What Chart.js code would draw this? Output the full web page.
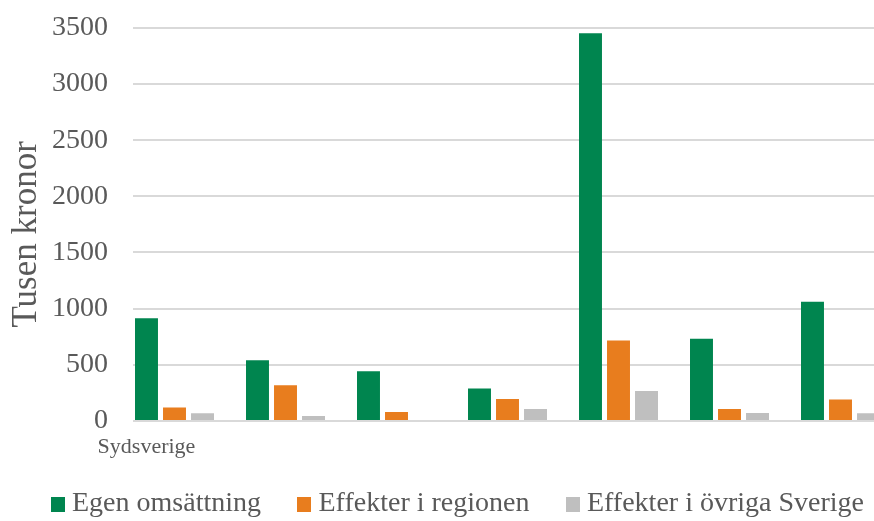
<!DOCTYPE html>
<html>
<head>
<meta charset="utf-8">
<script src="https://cdn.jsdelivr.net/npm/chart.js@4/dist/chart.umd.min.js"></script>
<style>
  html, body { margin: 0; padding: 0; background: #ffffff; overflow: hidden; }
  #wrap { position: absolute; left: 0; top: 0; width: 922px; height: 528px; }
</style>
</head>
<body>
<div id="wrap"><canvas id="chart"></canvas></div>
<script>
// Kategorier (endast den första är namngiven på axeln)
const categories = ['Sydsverige', '', '', '', '', '', ''];

// Värden i tusen kronor
const egenOmsattning = [914, 540, 442, 289, 3451, 732, 1062];
const effekterRegionen = [121, 319, 80, 195, 717, 106, 192];
const effekterOvrigaSverige = [68, 44, 8, 106, 268, 71, 68];

const seriesNames = ['Egen omsättning', 'Effekter i regionen', 'Effekter i övriga Sverige'];
const seriesColors = ['#00854f', '#e87d1e', '#bfbfbf'];

const yTicks = [0, 500, 1000, 1500, 2000, 2500, 3000, 3500];

const textColor = '#595959';
const serif = "'Liberation Serif', 'Times New Roman', serif";

// Fyrkantig färgruta för förklaringen
function legendSwatch(color) {
  const c = document.createElement('canvas');
  c.width = 14;
  c.height = 15;
  const g = c.getContext('2d');
  g.fillStyle = color;
  g.fillRect(0, 0, c.width, c.height);
  return c;
}

// Låter de horisontella stödlinjerna börja en bit in från diagramytans vänsterkant
const gridStartInset = {
  id: 'gridStartInset',
  beforeDatasetsDraw(chart) {
    const { ctx, chartArea } = chart;
    ctx.save();
    ctx.fillStyle = '#ffffff';
    ctx.fillRect(chartArea.left - 2, chartArea.top - 3, 16, chartArea.bottom - chartArea.top + 6);
    ctx.restore();
  }
};

// Centrerar förklaringen över hela ritytan, ger x-axelns etikett plats
// och sänker y-axelns rubrik något
const layoutTweaks = {
  id: 'layoutTweaks',
  afterLayout(chart) {
    chart.legend.left = 0;
    chart.legend.right = chart.width;
    chart.scales.x.bottom = chart.scales.x.top + 40;
    chart.scales.y.bottom += 20;
  }
};

const seriesData = [egenOmsattning, effekterRegionen, effekterOvrigaSverige];

new Chart(document.getElementById('chart'), {
  type: 'bar',
  data: {
    labels: categories,
    datasets: seriesData.map((values, i) => ({
      label: seriesNames[i],
      data: values,
      backgroundColor: seriesColors[i],
      pointStyle: legendSwatch(seriesColors[i]),
      borderWidth: 0,
      barPercentage: 0.82,
      categoryPercentage: 0.757
    }))
  },
  options: {
    responsive: true,
    maintainAspectRatio: false,
    animation: false,
    layout: { padding: { left: 0, right: 26, top: 23.2, bottom: 0 } },
    plugins: {
      tooltip: { enabled: false },
      legend: {
        position: 'bottom',
        labels: {
          font: { family: serif, size: 28 },
          color: textColor,
          usePointStyle: true,
          boxWidth: 0.01,
          boxHeight: 15,
          padding: 43.5
        }
      }
    },
    scales: {
      x: {
        grid: { display: false, drawTicks: false },
        border: { display: false },
        ticks: {
          font: { family: serif, size: 22 },
          color: textColor,
          padding: 12.8,
          labelOffset: -28,
          autoSkip: false,
          maxRotation: 0
        },
        afterFit(scale) { scale.height = 25.5; }
      },
      y: {
        min: 0,
        max: 3500,
        afterBuildTicks(scale) { scale.ticks = yTicks.map(v => ({ value: v })); },
        afterFit(scale) { scale.width = 119; },
        grid: { color: '#d9d9d9', lineWidth: 2, drawTicks: false },
        border: { display: false },
        ticks: {
          font: { family: serif, size: 28 },
          color: textColor,
          padding: 11,
          callback: v => String(v)
        },
        title: {
          display: true,
          text: 'Tusen kronor',
          font: { family: serif, size: 35 },
          color: textColor,
          padding: { top: 6, bottom: 0 }
        }
      }
    }
  },
  plugins: [gridStartInset, layoutTweaks]
});
</script>
</body>
</html>
